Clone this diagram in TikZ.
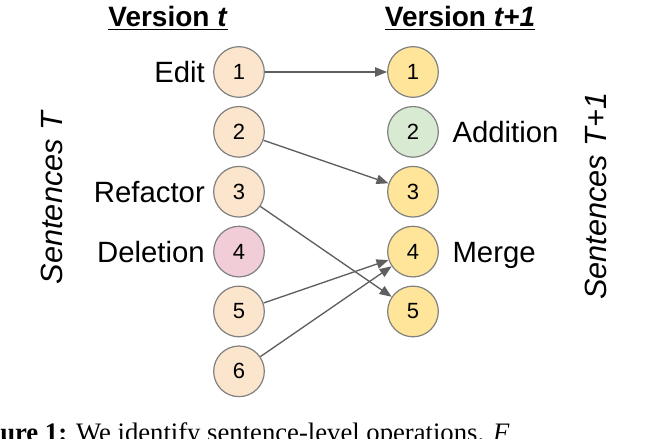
\documentclass[tikz,border=0pt]{standalone}
\usepackage{fontspec}
\setmainfont{Liberation Sans}
\newfontfamily\capfont{Liberation Serif}
\usepackage{xcolor}
\usetikzlibrary{positioning, arrows.meta}
\definecolor{oldbg}{HTML}{FCE5CD}
\definecolor{delbg}{HTML}{F0CDD7}
\definecolor{addbg}{HTML}{D9EAD3}
\definecolor{newbg}{HTML}{FFE599}
\definecolor{ringcol}{HTML}{808080}
\definecolor{linkcol}{HTML}{5F5F5F}

\begin{document}
\begin{tikzpicture}[
        x=0.75pt, y=-0.75pt,
        node distance=6pt and 5pt,
        sent/.style={circle, draw=ringcol, line width=0.9pt, minimum size=38pt, inner sep=0pt, font=\fontsize{16.5}{18}\selectfont},
        oldsent/.style={sent, fill=oldbg},
        delsent/.style={sent, fill=delbg},
        addsent/.style={sent, fill=addbg},
        newsent/.style={sent, fill=newbg},
        oplabel/.style={inner sep=0pt, text height=16pt, text depth=0pt, font=\fontsize{22}{25}\selectfont},
        title/.style={inner sep=0pt, font=\fontsize{21}{25}\selectfont\bfseries},
        side/.style={inner sep=0pt, rotate=90, font=\fontsize{23}{25}\selectfont\itshape},
        link/.style={-{Triangle[length=9pt, width=7pt]}, draw=linkcol, fill=linkcol, line width=1pt}
    ]
    \useasboundingbox (0,0) rectangle (650,439);

    % version t
    \node[oldsent] (o1) at (239,72) {1};
    \node[oldsent] (o2) [below=of o1] {2};
    \node[oldsent] (o3) [below=of o2] {3};
    \node[delsent] (o4) [below=of o3] {4};
    \node[oldsent] (o5) [below=of o4] {5};
    \node[oldsent] (o6) [below=of o5] {6};

    % version t+1
    \node[newsent] (n1) at (413,72) {1};
    \node[addsent] (n2) [below=of n1] {2};
    \node[newsent] (n3) [below=of n2] {3};
    \node[newsent] (n4) [below=of n3] {4};
    \node[newsent] (n5) [below=of n4] {5};

    \node[title] (vt) at (168,18) {\underline{Version \textit{t}}};
    \node[title] (vt1) at (460,18) {\underline{Version \textit{t+1}}};

    \node[oplabel] (edit) [left=6pt of o1] {Edit};
    \node[oplabel] (refac) [left=6pt of o3] {Refactor};
    \node[oplabel] (del) [left=6pt of o4] {Deletion};
    \node[oplabel] (add) [right=10pt of n2] {Addition};
    \node[oplabel] (merge) [right=10pt of n4] {Merge};

    \node[side] (st) at (52,198) {Sentences T};
    \node[side] (st1) at (596,196) {Sentences T+1};

    \draw[link] (o1) -- (n1);
    \draw[link] (o2) -- (n3);
    \draw[link] (o3) -- (n5);
    \draw[link] (o5) -- (n4);
    \draw[link] (o6) -- (n4);

    \node[anchor=base west, inner sep=0pt, font=\capfont\fontsize{20}{24}\selectfont] (cap) at (-37,441) {\textbf{Figure 1:} We identify sentence-level operations. \textit{F}};

\end{tikzpicture}
\end{document}
